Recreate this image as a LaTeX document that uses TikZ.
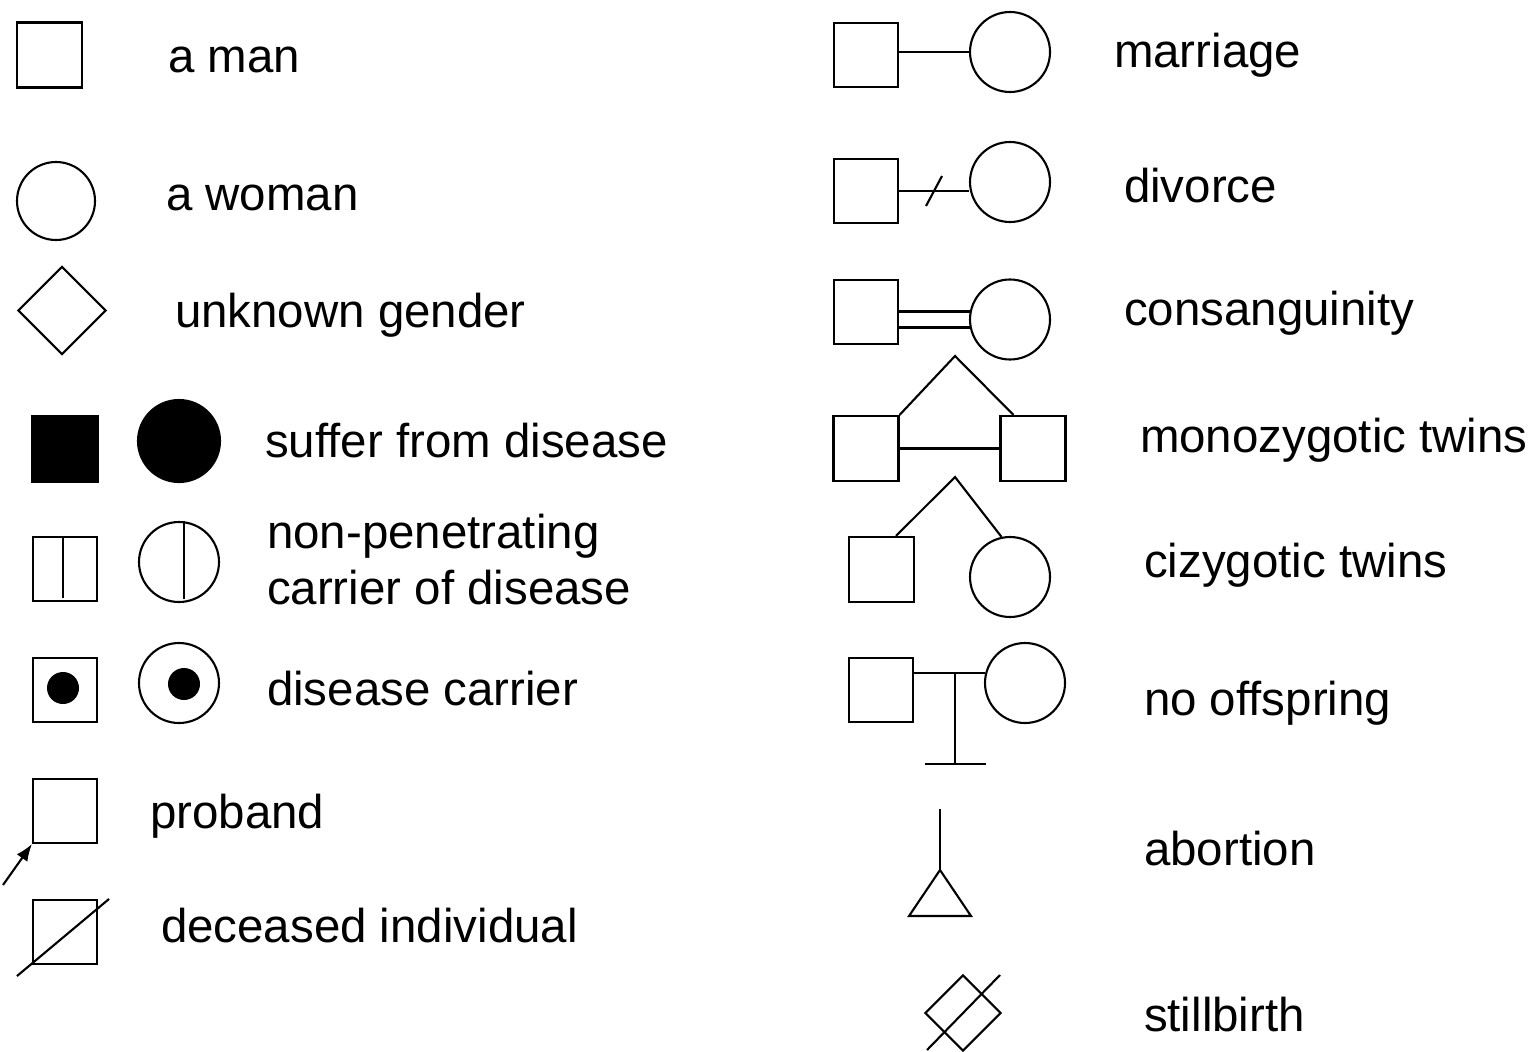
\documentclass[tikz,border=0pt]{standalone}
\usepackage{fontspec}
\setmainfont{Liberation Sans}
\usetikzlibrary{calc, arrows.meta, shapes.geometric}

\tikzset{
    male/.style={draw, rectangle, minimum size=0.64cm, inner sep=0pt},
    female/.style={draw, circle, minimum size=0.8cm, inner sep=0pt},
    unsexed/.style={draw, diamond, inner sep=0pt},
    dot/.style={circle, fill=black, minimum size=0.32cm, inner sep=0pt},
    legend/.style={anchor=base west, inner sep=0pt, font=\fontsize{13.5pt}{16pt}\selectfont}
}

\begin{document}
\begin{tikzpicture}[line width=0.6pt]
    \useasboundingbox (0,0) rectangle (15.34,-10.51);

    % Left column: single individuals
    \node[male, minimum size=0.65cm] (man) at (0.495,-0.55) {};
    \node[female, minimum size=0.78cm] (woman) at (0.56,-2.01) {};
    \node[unsexed, minimum size=0.88cm] (unknown) at (0.62,-3.105) {};

    % affected
    \node[male, fill=black, minimum size=0.66cm] (affm) at (0.65,-4.49) {};
    \node[female, fill=black, minimum size=0.82cm] (afff) at (1.79,-4.41) {};

    % non-penetrating carriers
    \node[male] (npm) at (0.65,-5.69) {};
    \draw ([xshift=-0.02cm]npm.north) -- ([shift={(-0.02,0.04)}]npm.south);
    \node[female] (npf) at (1.79,-5.62) {};
    \draw ([xshift=0.05cm]npf.north) -- ([shift={(0.05,0.04)}]npf.south);

    % carriers
    \node[male] (cm) at (0.65,-6.90) {};
    \node[dot] (cmdot) at (0.63,-6.88) {};
    \node[female] (cf) at (1.79,-6.83) {};
    \node[dot] (cfdot) at (1.84,-6.84) {};

    % proband, arrow from below left
    \node[male] (prob) at (0.65,-8.11) {};
    \coordinate (pa) at (0.03,-8.85);
    \draw[-{Latex[length=0.17cm,width=0.13cm]}] (pa) -- (prob.south west);

    % deceased
    \node[male] (dead) at (0.65,-9.32) {};
    \draw ([shift={(-0.15,-0.11)}]dead.south west) -- ([shift={(0.11,0)}]dead.north east);

    % Right column: couples
    \node[male] (mh) at (8.66,-0.55) {};
    \node[female] (mw) at (10.10,-0.52) {};
    \draw (mh.east |- mw.west) -- (mw.west);

    % divorce
    \node[male] (dh) at (8.66,-1.91) {};
    \node[female] (dw) at (10.10,-1.82) {};
    \draw (dh.east) -- coordinate[midway] (dmid) (dh.east -| dw.west);
    \draw ([shift={(-0.08,-0.15)}]dmid) -- ([shift={(0.08,0.15)}]dmid);

    % consanguinity
    \node[male] (ch) at (8.66,-3.12) {};
    \node[female] (cw) at (10.10,-3.195) {};
    \foreach \dy in {0.08,-0.08}
        \draw ($(ch.east |- cw.west)+(0,\dy)$) -- ($(cw.west)+(0.01,\dy)$);

    % monozygotic twins
    \node[male, minimum size=0.65cm] (mz1) at (8.66,-4.485) {};
    \node[male, minimum size=0.65cm] (mz2) at (10.33,-4.485) {};
    \coordinate (mzt) at (9.55,-3.56);
    \draw (mz1.north east) -- (mzt) -- ([xshift=0.14cm]mz2.north west);
    \draw (mz1.east) -- (mz2.west);

    % dizygotic twins
    \node[male, minimum size=0.65cm] (dz1) at (8.815,-5.695) {};
    \node[female] (dz2) at (10.10,-5.77) {};
    \coordinate (dzt) at (9.55,-4.77);
    \draw ([xshift=0.145cm]dz1.north) -- (dzt) -- (dz2.102);

    % no offspring
    \node[male] (nh) at (8.81,-6.90) {};
    \node[female] (nw) at (10.25,-6.83) {};
    \coordinate (nt) at (9.55,-6.73);
    \coordinate (nb) at (9.55,-7.64);
    \draw (nh.east |- nt) -- ($(nw.west |- nt)+(0.01,0)$);
    \draw (nt) -- (nb);
    \draw ([xshift=-0.30cm]nb) -- ([xshift=0.31cm]nb);

    % abortion
    \coordinate (abt) at (9.40,-8.09);
    \coordinate (aba) at (9.40,-8.70);
    \draw (abt) -- (aba);
    \draw (aba) -- ++(-0.31,-0.46) -- ++(0.62,0) -- cycle;

    % stillbirth
    \node[unsexed, minimum size=0.76cm] (still) at (9.63,-10.13) {};
    \draw ([shift={(0.37,0.38)}]still.center) -- ([shift={(-0.36,-0.37)}]still.center);

    % Labels (x / baseline depth / text)
    \foreach \x/\y/\txt [count=\i] in {
        1.67/0.73/a man,
        1.65/2.10/a woman,
        1.74/3.27/unknown gender,
        2.64/4.57/suffer from disease,
        2.66/5.48/non-penetrating,
        2.66/6.04/carrier of disease,
        2.66/7.05/disease carrier,
        1.49/8.28/proband,
        1.60/9.42/deceased individual,
        11.13/0.68/marriage,
        11.23/2.02/divorce,
        11.23/3.25/consanguinity,
        11.39/4.52/monozygotic twins,
        11.43/5.77/cizygotic twins,
        11.43/7.15/no offspring,
        11.43/8.65/abortion,
        11.43/10.31/stillbirth}
        \node[legend] (lab\i) at (\x,-\y) {\txt};

\end{tikzpicture}
\end{document}
